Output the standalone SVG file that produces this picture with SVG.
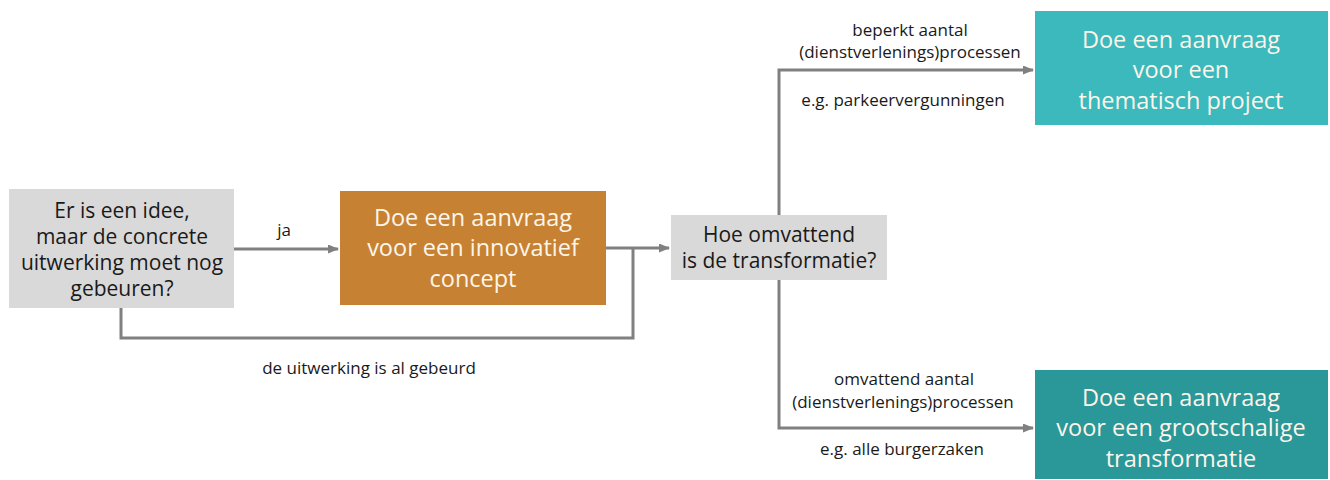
<svg xmlns="http://www.w3.org/2000/svg" width="1330" height="480" viewBox="0 0 1330 480">
<style>
.t{font-family:"Open Sans","Noto Sans",sans-serif;text-anchor:middle}
.q{font-size:21px;fill:#1a1a1a}
.w{font-size:23.5px;fill:#fdf5ea}
.l{font-size:17px;fill:#1a1a1a}
.c{fill:none;stroke:#808080;stroke-width:3}
</style>
<defs>
<marker id="a" markerWidth="11" markerHeight="9" refX="10" refY="4.5" orient="auto" markerUnits="userSpaceOnUse">
<path d="M0,0 L11,4.5 L0,9 Z" fill="#808080"/>
</marker>
</defs>
<rect width="1330" height="480" fill="#fff"/>
<g id="connectors">
<path class="c" d="M234,249 H338" marker-end="url(#a)"/>
<path class="c" d="M606,248 H669" marker-end="url(#a)"/>
<path class="c" d="M121,308 V338 H633 V248"/>
<path class="c" d="M779,215 V70 H1033" marker-end="url(#a)"/>
<path class="c" d="M779,280 V428 H1033" marker-end="url(#a)"/>
<text class="t l" x="284" y="236">ja</text>
<text class="t l" x="369" y="374">de uitwerking is al gebeurd</text>
<text class="t l" x="910" y="36">beperkt aantal</text>
<text class="t l" x="910" y="58">(dienstverlenings)processen</text>
<text class="t l" x="903" y="106">e.g. parkeervergunningen</text>
<text class="t l" x="904" y="385">omvattend aantal</text>
<text class="t l" x="903" y="408">(dienstverlenings)processen</text>
<text class="t l" x="902" y="455">e.g. alle burgerzaken</text>
</g>
<g id="n1">
<rect x="9" y="189" width="225" height="119" fill="#d9d9d9"/>
<text class="t q" x="122" y="218">Er is een idee,</text>
<text class="t q" x="122" y="244">maar de concrete</text>
<text class="t q" x="122" y="270">uitwerking moet nog</text>
<text class="t q" x="122" y="296">gebeuren?</text>
</g>
<g id="n2">
<rect x="340" y="191" width="266" height="114" fill="#c68232"/>
<text class="t w" x="473" y="226">Doe een aanvraag</text>
<text class="t w" x="473" y="256">voor een innovatief</text>
<text class="t w" x="473" y="287">concept</text>
</g>
<g id="n3">
<rect x="671" y="215" width="216" height="65" fill="#d9d9d9"/>
<text class="t q" x="779" y="242">Hoe omvattend</text>
<text class="t q" x="779" y="268">is de transformatie?</text>
</g>
<g id="n4">
<rect x="1035" y="11" width="293" height="114" fill="#3bb9bd"/>
<text class="t w" x="1181" y="48">Doe een aanvraag</text>
<text class="t w" x="1181" y="78">voor een</text>
<text class="t w" x="1181" y="109">thematisch project</text>
</g>
<g id="n5">
<rect x="1035" y="370" width="293" height="109" fill="#2a9799"/>
<text class="t w" x="1181" y="406">Doe een aanvraag</text>
<text class="t w" x="1181" y="436">voor een grootschalige</text>
<text class="t w" x="1181" y="467">transformatie</text>
</g>
</svg>
